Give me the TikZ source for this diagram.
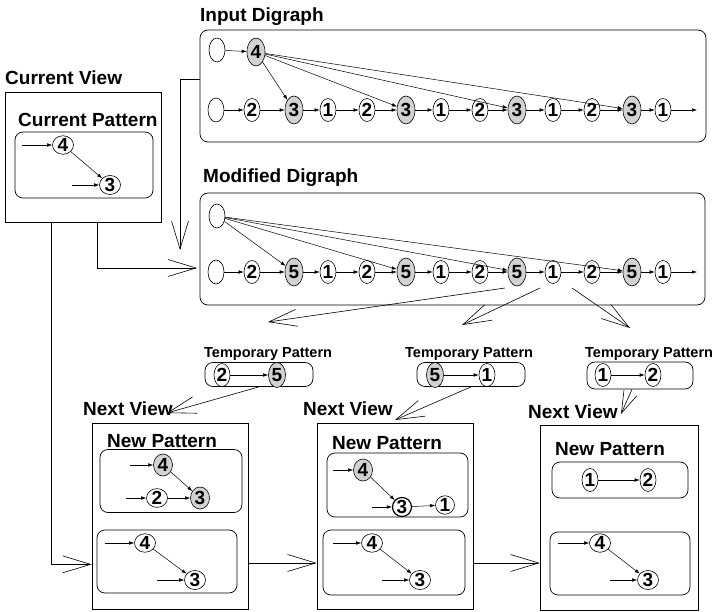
\documentclass[tikz,border=0pt]{standalone}
\usepackage{fontspec}
\setmainfont{Liberation Sans}
\usetikzlibrary{shapes.geometric,arrows.meta,calc}
\begin{document}
\begin{tikzpicture}[x=1pt,y=-1pt,
 lbl/.style={font=\fontsize{19}{19}\selectfont\bfseries, anchor=base west, inner sep=0},
 tpl/.style={font=\fontsize{14.5}{14.5}\selectfont\bfseries, anchor=base west, inner sep=0},
 nd/.style={ellipse, draw, line width=0.6pt, inner sep=0, minimum width=16, minimum height=23, font=\fontsize{19}{19}\selectfont\bfseries},
 sh/.style={nd, fill=gray!35, minimum width=18, minimum height=28},
 tsh/.style={nd, fill=gray!35, minimum width=17, minimum height=25},
 em/.style={ellipse, draw, line width=0.6pt, inner sep=0, minimum width=16, minimum height=24},
 vn/.style={nd, minimum width=21, minimum height=17},
 vsh/.style={nd, fill=gray!35, minimum width=19, minimum height=22},
 ed/.style={line width=0.5pt, -{Latex[length=5pt,width=3.5pt]}},
 big/.style={draw, line width=0.7pt, inner sep=0},
 rbox/.style={draw, line width=0.7pt, rounded corners=8pt, inner sep=0},
 va/.style={line width=0.6pt, -{Straight Barb[length=28pt,width=17pt]}}
]
\useasboundingbox (0,0) rectangle (715,612);

% ---------- Input digraph ----------
\node[lbl] (tin) at (200,22) {Input Digraph};
\node[rbox, minimum width=506, minimum height=112] (inbox) at (453,86) {};
\node[em] (i0) at (217,50) {};
\node[sh] (i4) at (256,52) {4};
\draw[ed] (i0) -- (i4);
\node[em] (ib0) at (216,110) {};
\foreach \i/\x/\t/\s in {1/252/2/nd,2/294/3/sh,3/328/1/nd,4/367/2/nd,5/406/3/sh,6/441/1/nd,7/480/2/nd,8/517/3/sh,9/553/1/nd,10/592/2/nd,11/632/3/sh,12/663/1/nd}
  \node[\s] (ib\i) at (\x,110) {\t};
\foreach \i [count=\j from 0] in {1,...,12} \draw[ed] (ib\j) -- (ib\i);
\coordinate (iend) at (697,110);
\draw[ed] (ib12) -- (iend);
\foreach \i in {2,5,8,11} \draw[ed] (i4) -- (ib\i);

% ---------- Modified digraph ----------
\node[lbl] (tmod) at (203,183) {Modified Digraph};
\node[rbox, minimum width=505, minimum height=112] (modbox) at (452.5,249) {};
\node[em] (m0) at (217,216) {};
\node[em] (mb0) at (216,272) {};
\foreach \i/\x/\t/\s in {1/252/2/nd,2/294/5/sh,3/328/1/nd,4/367/2/nd,5/406/5/sh,6/441/1/nd,7/480/2/nd,8/517/5/sh,9/553/1/nd,10/592/2/nd,11/632/5/sh,12/663/1/nd}
  \node[\s] (mb\i) at (\x,272) {\t};
\foreach \i [count=\j from 0] in {1,...,12} \draw[ed] (mb\j) -- (mb\i);
\coordinate (mend) at (697,272);
\draw[ed] (mb12) -- (mend);
\foreach \i in {2,5,8,11} \draw[ed] (m0) -- (mb\i);

% ---------- Current view ----------
\node[lbl] (tcv) at (5,85) {Current View};
\node[big, minimum width=156, minimum height=130] (cv) at (83,157) {};
\node[lbl] (tcp) at (18,127) {Current Pattern};
\node[rbox, minimum width=138, minimum height=66] (cp) at (84,165) {};
\node[vn] (c4) at (63,145) {4};
\node[vn] (c3) at (110,185) {3};
\coordinate (c4in) at (22,145);
\coordinate (c3in) at (72,185);
\draw[ed] (c4in) -- (c4);
\draw[ed] (c3in) -- (c3);
\draw[ed] (c4) -- (c3);

% connectors into modified digraph
\coordinate (dtip) at (180,250);
\coordinate (rtip) at (197,268);
\draw[va] ($(inbox.north west)+(0,50)$) -| (dtip);
\draw[va] ($(cv.south west)+(93,0)$) |- (rtip);

% ---------- Temporary patterns ----------
\node[tpl] (ttp1) at (204,358) {Temporary Pattern};
\node[rbox, minimum width=108, minimum height=24] (tp1) at (259,374.5) {};
\node[nd] (t12) at (222,375) {2};
\node[tsh] (t15) at (277,375) {5};
\draw[ed] (t12) -- (t15);

\node[tpl] (ttp2) at (405,358) {Temporary Pattern};
\node[rbox, minimum width=108, minimum height=24] (tp2) at (471,374.5) {};
\node[tsh] (t25) at (435,375) {5};
\node[nd] (t21) at (487,375) {1};
\draw[ed] (t25) -- (t21);

\node[tpl] (ttp3) at (585,358) {Temporary Pattern};
\node[rbox, minimum width=106, minimum height=27] (tp3) at (640,375.5) {};
\node[nd] (t31) at (603,375) {1};
\node[nd] (t32) at (653,375) {2};
\draw[ed] (t31) -- (t32);

% arrows modified -> temporary
\coordinate (ma) at (505,288);
\coordinate (mb) at (540,288);
\coordinate (mc) at (572,288);
\coordinate (ta) at (268,322);
\coordinate (tb) at (462,325);
\coordinate (tc) at (630,328);
\draw[va] (ma) -- (ta);
\draw[va] (mb) -- (tb);
\draw[va] (mc) -- (tc);

% ---------- Next views ----------
\node[lbl] (tnv1) at (83,415) {Next View};
\node[big, minimum width=156, minimum height=186] (nv1) at (170,516) {};
\node[lbl] (tnp1) at (107,447) {New Pattern};
\node[rbox, minimum width=142, minimum height=63] (nv1a) at (171,481) {};
\node[vsh] (n14) at (163,465) {4};
\node[vn] (n12) at (157,498) {2};
\node[vsh] (n13) at (200,498) {3};
\coordinate (n14in) at (130,465);
\coordinate (n12in) at (126,498);
\draw[ed] (n14in) -- (n14);
\draw[ed] (n12in) -- (n12);
\draw[ed] (n14) -- (n13);
\draw[ed] (n12) -- (n13);
\node[rbox, minimum width=140, minimum height=63] (nv1b) at (167,561.5) {};
\node[vn] (o14) at (145,543) {4};
\node[vn] (o13) at (195,580) {3};
\coordinate (o14in) at (105,543);
\coordinate (o13in) at (157,580);
\draw[ed] (o14in) -- (o14);
\draw[ed] (o13in) -- (o13);
\draw[ed] (o14) -- (o13);

\node[lbl] (tnv2) at (303,415) {Next View};
\node[big, minimum width=156, minimum height=186] (nv2) at (395,516) {};
\node[lbl] (tnp2) at (332,449) {New Pattern};
\node[rbox, minimum width=141, minimum height=64] (nv2a) at (397.5,485) {};
\node[vsh] (n24) at (363,470) {4};
\node[vn, line width=1.2pt, minimum width=19, minimum height=19] (n23) at (402,507) {3};
\node[vn, minimum width=19] (n21) at (445,505) {1};
\coordinate (n24in) at (333,470);
\coordinate (n23in) at (372,507);
\draw[ed] (n24in) -- (n24);
\draw[ed] (n23in) -- (n23);
\draw[ed] (n24) -- (n23);
\draw[ed] (n23) -- (n21);
\node[rbox, minimum width=142, minimum height=65] (nv2b) at (394,562.5) {};
\node[vn] (o24) at (372,543) {4};
\node[vn] (o23) at (420,580) {3};
\coordinate (o24in) at (333,543);
\coordinate (o23in) at (382,580);
\draw[ed] (o24in) -- (o24);
\draw[ed] (o23in) -- (o23);
\draw[ed] (o24) -- (o23);

\node[lbl] (tnv3) at (528,418) {Next View};
\node[big, minimum width=158, minimum height=185] (nv3) at (619,517.5) {};
\node[lbl] (tnp3) at (555,455) {New Pattern};
\node[rbox, minimum width=136, minimum height=36] (nv3a) at (620,480) {};
\node[nd] (n31) at (590,480) {1};
\node[nd] (n32) at (648,480) {2};
\draw[ed] (n31) -- (n32);
\node[rbox, minimum width=140, minimum height=63] (nv3b) at (620,563.5) {};
\node[vn] (o34) at (600,543) {4};
\node[vn] (o33) at (648,580) {3};
\coordinate (o34in) at (558,543);
\coordinate (o33in) at (610,580);
\draw[ed] (o34in) -- (o34);
\draw[ed] (o33in) -- (o33);
\draw[ed] (o34) -- (o33);

% arrows temporary -> next view
\coordinate (va1) at (167,413);
\coordinate (va2) at (395,420);
\coordinate (va3) at (621,414);
\draw[va] (tp1.south) -- (va1);
\draw[va] (tp2.south) -- (va2);
\draw[line width=0.6pt, -{Straight Barb[length=22pt,width=14pt]}] ($(tp3.south)+(-8,0)$) -- (va3);

% view-to-view arrows
\coordinate (yrow) at (0,563);
\draw[va] ($(cv.south west)+(47,0)$) |- ($(nv1.south west)+(0,-45)$);
\draw[va] (nv1.east |- yrow) -- (nv2.west |- yrow);
\draw[va] (nv2.east |- yrow) -- (nv3.west |- yrow);
\end{tikzpicture}
\end{document}
